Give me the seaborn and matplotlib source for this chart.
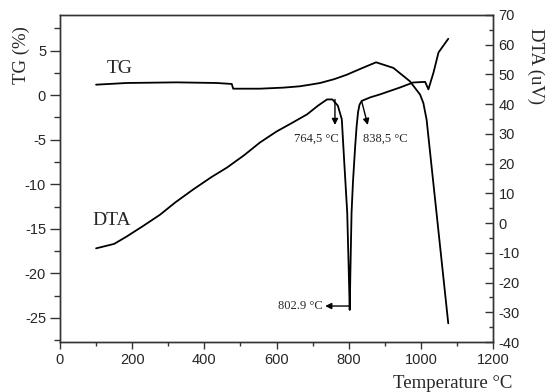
import matplotlib
matplotlib.use("Agg")
import matplotlib.pyplot as plt
import seaborn as sns
import numpy as np
from matplotlib.ticker import MultipleLocator

# ---- data ----
tg_temp = [100, 185, 323, 434, 476, 480, 554, 620, 665, 693, 721, 760, 795,
           835, 876, 924, 970, 998, 1007, 1016, 1076]
tg_value = [1.18, 1.37, 1.44, 1.37, 1.26, 0.73, 0.73, 0.85, 1.0, 1.18, 1.37,
            1.8, 2.3, 3.0, 3.69, 3.06, 1.55, 0.06, -0.88, -2.75, -25.6]

dta_temp = [100, 150, 185, 230, 277, 320, 369, 420, 463, 510, 554, 600, 646,
            685, 715, 740, 755, 770, 781, 788, 796, 800, 802.9, 805, 808, 812,
            818, 822, 826, 830, 836, 860, 887, 942, 979, 1012, 1021, 1035,
            1049, 1076]
dta_value = [-8.5, -7.0, -4.5, -1.0, 2.8, 7.0, 11.3, 15.5, 18.7, 22.8, 27.1,
             30.8, 33.9, 36.6, 39.5, 41.6, 41.6, 39.5, 34.9, 20.0, 3.5, -15.0,
             -29.2, -15.0, 3.5, 14.0, 25.8, 32.5, 37.3, 39.8, 41.1, 42.3, 43.3,
             45.6, 47.3, 47.5, 45.0, 50.6, 57.4, 62.0]

x_ticks = [0, 200, 400, 600, 800, 1000, 1200]
tg_ticks = [-25, -20, -15, -10, -5, 0, 5]
dta_ticks = [-40, -30, -20, -10, 0, 10, 20, 30, 40, 50, 60, 70]

peak_labels = ["764,5 °C", "838,5 °C", "802.9 °C"]

# ---- style ----
sns.set_style("ticks")
plt.rcParams["font.family"] = ["Liberation Sans", "DejaVu Sans"]
plt.rcParams["axes.unicode_minus"] = False
serif = ["Liberation Serif", "DejaVu Serif"]

fig = plt.figure(figsize=(5.47, 3.92), dpi=100)
ax = fig.add_axes([60 / 547, 1 - 342 / 392, 433 / 547, 327 / 392])
ax2 = ax.twinx()

sns.lineplot(x=tg_temp, y=tg_value, ax=ax, color="black", lw=1.3,
             sort=False, estimator=None)
sns.lineplot(x=dta_temp, y=dta_value, ax=ax2, color="black", lw=1.3,
             sort=False, estimator=None)

ax.set_xlim(0, 1200)
ax.set_ylim(-27.7, 9.0)
ax2.set_ylim(-40, 70)

ax.set_xticks(x_ticks)
ax.set_xticklabels([str(v) for v in x_ticks])
ax.xaxis.set_minor_locator(MultipleLocator(100))
ax.set_yticks(tg_ticks)
ax.set_yticklabels([str(v) for v in tg_ticks])
ax.yaxis.set_minor_locator(MultipleLocator(2.5))
ax2.set_yticks(dta_ticks)
ax2.set_yticklabels([str(v) for v in dta_ticks])
ax2.yaxis.set_minor_locator(MultipleLocator(5))

spine_c = "#333333"
for a in (ax, ax2):
    for s in a.spines.values():
        s.set_visible(True)
        s.set_color(spine_c)
        s.set_linewidth(1.0)

ax.tick_params(axis="x", which="major", direction="out", length=5, width=1,
               color=spine_c, labelsize=10.5, pad=3)
ax.tick_params(axis="x", which="minor", direction="out", length=3, width=1,
               color=spine_c)
ax.tick_params(axis="y", which="major", direction="out", length=7, width=1,
               color=spine_c, labelsize=10.5, pad=3)
ax.tick_params(axis="y", which="minor", direction="out", length=4, width=1,
               color=spine_c)
ax2.tick_params(axis="y", which="major", direction="in", length=6, width=1,
                color=spine_c, labelsize=10.5, pad=4)
ax2.tick_params(axis="y", which="minor", direction="in", length=3, width=1,
                color=spine_c)
ax.set_xlabel("")
ax.set_ylabel("")
ax2.set_ylabel("")

# axis titles
fig.text(512 / 547, 1 - 383 / 392, "Temperature °C", ha="right", va="center",
         fontsize=13.5, family=serif)
fig.text(21 / 547, 1 - 55 / 392, "TG (%)", ha="center", va="center",
         rotation=90, fontsize=13.5, family=serif)
fig.text(536 / 547, 1 - 66 / 392, "DTA (uV)", ha="center", va="center",
         rotation=270, fontsize=13.5, family=serif)

# curve labels
ax.text(166, 2.98, "TG", ha="center", va="center", fontsize=14, family=serif)
ax2.text(142, 1.0, "DTA", ha="center", va="center", fontsize=14, family=serif)

# peak annotations
arrow = dict(arrowstyle="-|>", color="black", lw=1.0, mutation_scale=9,
             shrinkA=0, shrinkB=0)
ax2.annotate("", xy=(762, 33.0), xytext=(762, 41.6), arrowprops=arrow)
ax2.annotate("", xy=(853, 33.0), xytext=(836, 41.0), arrowprops=arrow)
ax2.annotate("", xy=(735, -27.9), xytext=(802.9, -27.9), arrowprops=arrow)
ax2.text(711, 28.5, peak_labels[0], ha="center", va="center", fontsize=9,
         family=serif)
ax2.text(901, 28.5, peak_labels[1], ha="center", va="center", fontsize=9,
         family=serif)
ax2.text(727, -27.9, peak_labels[2], ha="right", va="center", fontsize=9,
         family=serif)

fig.savefig("out.png", dpi=100)
